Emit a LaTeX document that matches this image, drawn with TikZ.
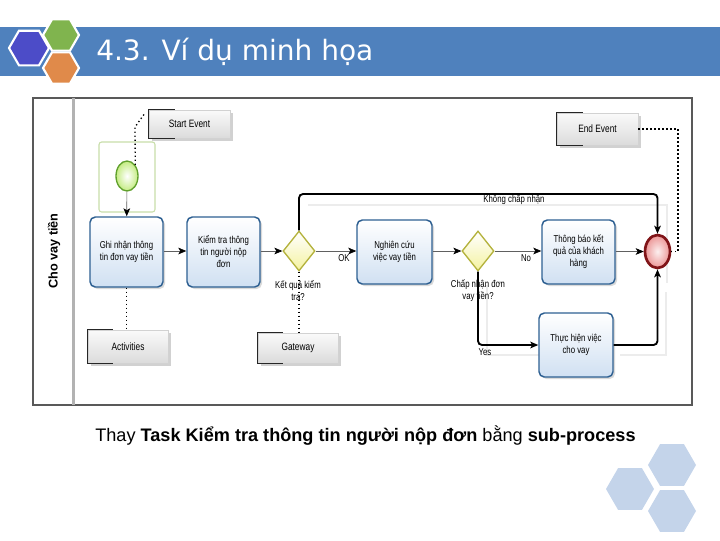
\documentclass[tikz,border=0pt]{standalone}
\usepackage{fontspec}
\setmainfont{Liberation Sans}
\newfontfamily\tfont{DejaVu Sans}
\newfontfamily\dfont[FakeStretch=0.78]{Liberation Sans}
\usetikzlibrary{shapes.geometric,arrows.meta,shadows,calc}
\definecolor{barblue}{RGB}{79,129,189}
\definecolor{hexblue}{RGB}{76,76,200}
\definecolor{hexgreen}{RGB}{128,180,78}
\definecolor{hexorange}{RGB}{224,138,74}
\definecolor{hexlight}{RGB}{196,212,234}
\definecolor{taskb}{RGB}{46,96,146}
\definecolor{taskf}{RGB}{208,224,242}
\definecolor{gwb}{RGB}{180,178,60}
\definecolor{gwf}{RGB}{244,242,160}
\definecolor{endb}{RGB}{128,20,24}
\definecolor{endf}{RGB}{236,150,150}
\definecolor{startb}{RGB}{96,160,44}
\definecolor{startf}{RGB}{196,236,130}
\definecolor{selg}{RGB}{200,222,170}
\def\pxu{0.75pt}
\newcommand\myhex[4]{\fill[#4] (#1,#2) ++(0:#3) -- ++(120:#3) -- ++(180:#3) -- ++(240:#3) -- ++(300:#3) -- ++(0:#3) -- cycle;}
\tikzset{
  task/.style={rectangle, rounded corners=4pt, draw=taskb, line width=1.1pt,
    top color=white, bottom color=taskf,
    drop shadow={shadow xshift=1.5pt, shadow yshift=-1.5pt, fill=black, opacity=0.15},
    align=center, font=\dfont\fontsize{7.5}{9}\selectfont, inner sep=1pt},
  gw/.style={diamond, draw=gwb, line width=1pt, top color=white, bottom color=gwf,
    inner sep=0pt, minimum width=32*\pxu, minimum height=40*\pxu},
  annot/.style={rectangle, draw=gray!35, top color=gray!4, bottom color=gray!28,
    drop shadow={shadow xshift=2pt, shadow yshift=-2.5pt, fill=black, opacity=0.18},
    font=\dfont\fontsize{8}{9}\selectfont, inner sep=1pt},
  brk/.style={draw=gray!30!black, line width=0.8pt},
  lbl/.style={font=\dfont\fontsize{7.5}{9}\selectfont, align=center, inner sep=0.5pt},
  flow/.style={draw=gray!75!black, line width=0.5pt, -{Stealth[length=6pt,width=5pt,inset=1.5pt,color=black]}},
  bflow/.style={draw=black, line width=1.4pt, rounded corners=3pt, -{Stealth[length=6pt,width=5pt,inset=1.5pt]}},
  assoc/.style={draw=black, line width=1pt, dotted},
  shad/.style={draw=gray!15, line width=1pt}
}
\begin{document}
\begin{tikzpicture}[x=0.75pt,y=-0.75pt]
\useasboundingbox (0,0) rectangle (720,540);
% title bar
\fill[barblue] (0,27) rectangle (720,76);
\myhex{29}{48}{20}{hexblue, draw=white, line width=1.6pt}
\myhex{61}{35}{18}{hexgreen, draw=white, line width=1.6pt}
\myhex{61}{68}{18}{hexorange, draw=white, line width=1.6pt}
\node[anchor=west, inner sep=0pt, text=white, font=\tfont\fontsize{21}{25}\selectfont] (title) at (96,52) {4.3. Ví dụ minh họa};
% frame
\draw[gray!70!black, line width=0.9pt, fill=white] (33,98) rectangle (692,405);
\draw[gray!60, line width=1.6pt] (73.5,98) -- (73.5,405);
\node[rotate=90, font=\bfseries\fontsize{9.5}{11}\selectfont] (lane) at (54,251) {Cho vay tiền};
% connector shadows
\draw[shad] (308,205) -- (667,205) -- (667,283);
\draw[shad] (487,285) -- (487,355) -- (545,355);
\draw[shad] (620,355) -- (666,355) -- (666,292);
% selection around start
\draw[selg, line width=0.8pt, rounded corners=2pt] (99,142) rectangle (155,212);
% nodes
\node[ellipse, draw=startb, line width=1pt, inner color=white, outer color=startf, minimum width=22*\pxu, minimum height=30*\pxu, inner sep=0pt] (startc) at (127,176) {};
\node[task, minimum width=73*\pxu, minimum height=70*\pxu] (t1) at (126.5,252) {Ghi nhận thông\\tin đơn vay tiền};
\node[task, minimum width=73*\pxu, minimum height=70*\pxu] (t2) at (223.5,252) {Kiểm tra thông\\tin người nộp\\đơn};
\node[gw] (g1) at (299,251) {};
\node[task, minimum width=75*\pxu, minimum height=64*\pxu] (t3) at (394.5,252) {Nghiên cứu\\việc vay tiền};
\node[gw] (g2) at (478,251) {};
\node[task, minimum width=73*\pxu, minimum height=64*\pxu] (t4) at (578.5,252) {Thông báo kết\\quả của khách\\hàng};
\node[task, minimum width=74*\pxu, minimum height=64*\pxu] (t5) at (576,345) {Thực hiện việc\\cho vay};
\node[ellipse, draw=endb, line width=2pt, inner color=white!85!endf, outer color=endf, minimum width=25*\pxu, minimum height=33*\pxu, inner sep=0pt] (endc) at (657.5,251.5) {};
% annotations
\node[annot, minimum width=81*\pxu, minimum height=28*\pxu] (aStart) at (189.5,124) {Start Event};
\draw[brk] ([xshift=26*\pxu]aStart.north west) -- (aStart.north west) -- (aStart.south west) -- ([xshift=26*\pxu]aStart.south west);
\node[annot, minimum width=81*\pxu, minimum height=32*\pxu] (aEnd) at (597.5,129) {End Event};
\draw[brk] ([xshift=26*\pxu]aEnd.north west) -- (aEnd.north west) -- (aEnd.south west) -- ([xshift=26*\pxu]aEnd.south west);
\node[annot, minimum width=80*\pxu, minimum height=33*\pxu] (aAct) at (128,346.5) {Activities};
\draw[brk] ([xshift=25*\pxu]aAct.north west) -- (aAct.north west) -- (aAct.south west) -- ([xshift=25*\pxu]aAct.south west);
\node[annot, minimum width=80*\pxu, minimum height=30*\pxu] (aGw) at (298,348) {Gateway};
\draw[brk] ([xshift=25*\pxu]aGw.north west) -- (aGw.north west) -- (aGw.south west) -- ([xshift=25*\pxu]aGw.south west);
% labels
\node[lbl] (l1) at (298,291) {Kết quả kiểm\\tra?};
\node[lbl] (l2) at (478,291) {Chấp nhận đơn\\vay tiền?};
\node[lbl] (lok) at (344,258) {OK};
\node[lbl] (lno) at (526,258) {No};
\node[lbl] (lyes) at (485,352) {Yes};
\node[lbl] (lkc) at (514,200) {Không chấp nhận};
% flows
\draw[flow] (startc) -- (t1);
\draw[flow] (t1.east |- g1) -- (t2.west |- g1);
\draw[flow] (t2.east |- g1) -- (g1.west);
\draw[flow] (g1.east) -- (t3.west |- g1);
\draw[flow] (t3.east |- g1) -- (g2.west);
\draw[flow] (g2.east) -- (t4.west |- g2);
\draw[flow] (t4.east |- endc) -- (endc.west);
\coordinate (kc) at (0,194);
\draw[bflow] (g1.north) -- (g1.north |- kc) -- (endc.north |- kc) -- (endc.north);
\draw[bflow] (g2.south) |- (t5.west);
\draw[bflow] (t5.east) -| (endc.south);
% associations
\coordinate (sa1) at (135,127);
\coordinate (sa2) at (145,113);
\draw[assoc] (startc.north east) -- (sa1) -- (sa2);
\coordinate (ea) at (678,251.5);
\draw[assoc] (aEnd.east) -| (ea) -- (endc.east);
\draw[assoc, line width=0.6pt] (t1.south) -- (t1.south |- aAct.north);
\draw[assoc] (g1.south) -- (g1.south |- aGw.north);
% caption
\node[anchor=west, inner sep=0pt, font=\fontsize{13.6}{15}\selectfont] (cap) at (95,436) {Thay \textbf{Task Kiểm tra thông tin người nộp đơn} bằng \textbf{sub-process}};
% bottom hexagons
\myhex{672}{465}{24}{hexlight}
\myhex{630}{489}{24}{hexlight}
\myhex{672}{511}{24}{hexlight}
\end{tikzpicture}
\end{document}
